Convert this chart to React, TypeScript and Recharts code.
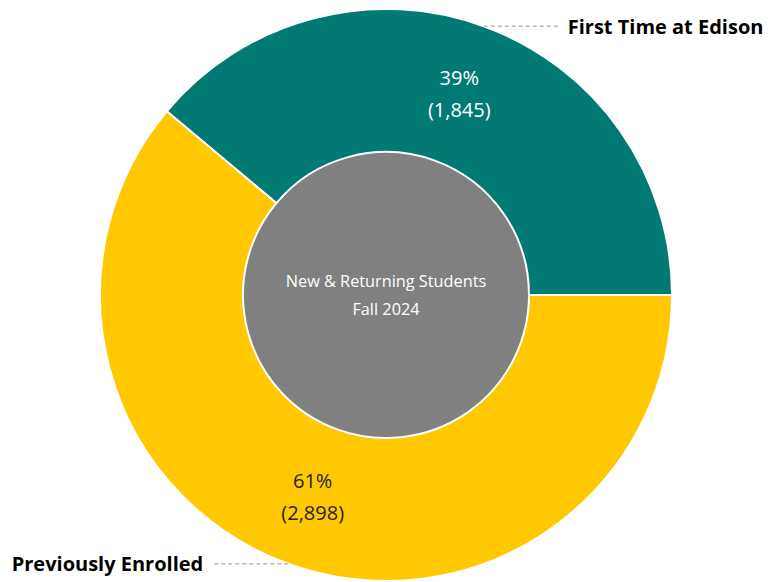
import React from 'react';
import { PieChart, Pie, Cell } from 'recharts';

const categories = ['First Time at Edison', 'Previously Enrolled'];
const counts = [1845, 2898];
const sliceColors = ['#007A73', '#FFC800'];
const labelColors = ['#FFFFFF', '#252423'];
const centerLines = ['New & Returning Students', 'Fall 2024'];

const data = categories.map((name, i) => ({ name, value: counts[i] }));
const centerData = [{ name: 'center', value: 1 }];

const RADIAN = Math.PI / 180;
const FONT = '"Open Sans", "Noto Sans", sans-serif';

const renderLabel = (props: any) => {
  const { cx, cy, midAngle, innerRadius, outerRadius, percent, value, index } = props;
  const mr = (innerRadius + outerRadius) / 2;
  const mx = cx + mr * Math.cos(-midAngle * RADIAN);
  const my = cy + mr * Math.sin(-midAngle * RADIAN);
  const ox = cx + outerRadius * Math.cos(-midAngle * RADIAN);
  const oy = cy + outerRadius * Math.sin(-midAngle * RADIAN);
  const right = Math.cos(-midAngle * RADIAN) >= 0;
  const ex = ox + (right ? 76 : -76);
  const tx = ex + (right ? 8 : -9);
  return (
    <g>
      <text x={mx} y={my - 16} textAnchor="middle" dominantBaseline="central" fill={labelColors[index]} fontSize={20} fontFamily={FONT}>
        {`${Math.round(percent * 100)}%`}
      </text>
      <text x={mx} y={my + 16} textAnchor="middle" dominantBaseline="central" fill={labelColors[index]} fontSize={20} fontFamily={FONT}>
        {`(${value.toLocaleString('en-US')})`}
      </text>
      <line x1={ox} y1={oy} x2={ex} y2={oy} stroke="#B8B8B8" strokeWidth={1.5} strokeDasharray="4 3" />
      <text x={tx} y={oy} textAnchor={right ? 'start' : 'end'} dominantBaseline="central" fill="#000000" fontSize={20} fontWeight="bold" fontFamily={FONT}>
        {categories[index]}
      </text>
    </g>
  );
};

const renderCenter = (props: any) => {
  const { cx, cy } = props;
  return (
    <g>
      {centerLines.map((t, i) => (
        <text key={t} x={cx} y={cy - 14 + i * 28} textAnchor="middle" dominantBaseline="central" fill="#FFFFFF" fontSize={16.3} fontFamily={FONT}>
          {t}
        </text>
      ))}
    </g>
  );
};

export default function App() {
  return (
    <div style={{ position: 'absolute', left: 0, top: 0, width: 774, height: 582, background: '#fff' }}>
      <PieChart width={774} height={582} margin={{ top: 0, right: 0, bottom: 0, left: 0 }}>
        <Pie
          data={centerData}
          dataKey="value"
          cx={386}
          cy={295}
          innerRadius={0}
          outerRadius={143}
          startAngle={90}
          endAngle={450}
          fill="#808080"
          stroke="none"
          label={renderCenter}
          labelLine={false}
          isAnimationActive={false}
        />
        <Pie
          data={data}
          dataKey="value"
          nameKey="name"
          cx={386}
          cy={295}
          innerRadius={143}
          outerRadius={286}
          startAngle={0}
          endAngle={360}
          stroke="#FFFFFF"
          strokeWidth={2}
          label={renderLabel}
          labelLine={false}
          isAnimationActive={false}
        >
          {data.map((d, i) => (
            <Cell key={d.name} fill={sliceColors[i]} />
          ))}
        </Pie>
      </PieChart>
    </div>
  );
}
